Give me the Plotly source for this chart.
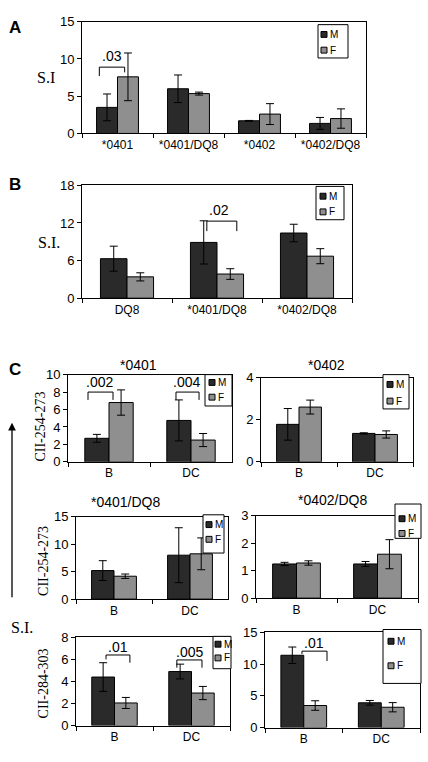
import plotly.graph_objects as go

W, H = 428, 762

# ---------------- data ----------------
A_cats = ["*0401", "*0401/DQ8", "*0402", "*0402/DQ8"]
A_M = [3.5, 6.0, 1.7, 1.35]
A_M_err = [1.8, 1.85, 0.05, 0.8]
A_F = [7.6, 5.35, 2.6, 2.0]
A_F_err = [3.2, 0.2, 1.4, 1.3]

B_cats = ["DQ8", "*0401/DQ8", "*0402/DQ8"]
B_M = [6.3, 8.9, 10.4]
B_M_err = [2.0, 3.45, 1.4]
B_F = [3.4, 3.85, 6.7]
B_F_err = [0.65, 0.85, 1.2]

C_cats = ["B", "DC"]
C1_M = [2.7, 4.75]; C1_M_err = [0.45, 2.35]
C1_F = [6.8, 2.5]; C1_F_err = [1.45, 0.75]
C2_M = [1.78, 1.35]; C2_M_err = [0.75, 0.03]
C2_F = [2.6, 1.3]; C2_F_err = [0.33, 0.17]
C3_M = [5.2, 8.0]; C3_M_err = [1.8, 5.0]
C3_F = [4.17, 8.25]; C3_F_err = [0.4, 2.9]
C4_M = [1.245, 1.245]; C4_M_err = [0.06, 0.09]
C4_F = [1.28, 1.6]; C4_F_err = [0.08, 0.53]
C5_M = [4.4, 4.9]; C5_M_err = [1.3, 0.67]
C5_F = [2.05, 2.95]; C5_F_err = [0.5, 0.6]
C6_M = [11.4, 3.9]; C6_M_err = [1.3, 0.37]
C6_F = [3.47, 3.2]; C6_F_err = [0.75, 0.73]

C_titles = ["*0401", "*0402", "*0401/DQ8", "*0402/DQ8"]
p_labels = [".03", ".02", ".002", ".004", ".01", ".005", ".01"]

M_COLOR = "#2a2a2a"
F_COLOR = "#8f8f8f"

# panels: (cats, M, Merr, F, Ferr, x0px, x1px, ytop, ybot, ymax, dtick)
panels = [
    (A_cats, A_M, A_M_err, A_F, A_F_err, 82, 366, 15, 129, 15, 5),
    (B_cats, B_M, B_M_err, B_F, B_F_err, 82, 352, 182, 297, 18, 6),
    (C_cats, C1_M, C1_M_err, C1_F, C1_F_err, 68, 232, 375, 464, 10, 2),
    (C_cats, C2_M, C2_M_err, C2_F, C2_F_err, 261, 413, 378, 464, 4, 2),
    (C_cats, C3_M, C3_M_err, C3_F, C3_F_err, 76, 228, 520, 604, 15, 5),
    (C_cats, C4_M, C4_M_err, C4_F, C4_F_err, 256, 418, 519, 603, 3, 1),
    (C_cats, C5_M, C5_M_err, C5_F, C5_F_err, 76, 230, 643, 733, 8, 2),
    (C_cats, C6_M, C6_M_err, C6_F, C6_F_err, 265, 420, 638, 735, 15, 5),
]

def px(x):
    return x / W

def py(y):
    return 1 - y / H

fig = go.Figure()
layout = dict(
    width=W, height=H, margin=dict(l=0, r=0, t=0, b=0),
    paper_bgcolor="white", plot_bgcolor="white",
    barmode="group", bargap=0.41, bargroupgap=0,
    showlegend=False,
    font=dict(family="Arial, Liberation Sans, sans-serif", color="black", size=12),
)

for i, (cats, m, me, f, fe, x0, x1, yt, yb, ymax, dt) in enumerate(panels):
    n = "" if i == 0 else str(i + 1)
    xa, ya = "x" + n, "y" + n
    err = dict(type="data", color="black", thickness=1, width=4)
    fig.add_trace(go.Bar(x=cats, y=m, name="M", xaxis=xa, yaxis=ya,
                         marker=dict(color=M_COLOR, line=dict(color="black", width=1)),
                         error_y=dict(array=me, **err)))
    fig.add_trace(go.Bar(x=cats, y=f, name="F", xaxis=xa, yaxis=ya,
                         marker=dict(color=F_COLOR, line=dict(color="black", width=1)),
                         error_y=dict(array=fe, **err)))
    layout["xaxis" + n] = dict(
        domain=[px(x0), px(x1)], anchor=ya, type="category",
        showline=True, linecolor="black", linewidth=1, mirror=True,
        ticks="outside", tickson="boundaries", ticklen=4, tickcolor="black",
        showgrid=False, tickfont=dict(size=12), fixedrange=True,
    )
    layout["yaxis" + n] = dict(
        domain=[py(yb), py(yt)], anchor=xa, range=[0, ymax], dtick=dt,
        showline=True, linecolor="black", linewidth=1, mirror=True,
        ticks="outside", ticklen=4, tickcolor="black", showgrid=False,
        zeroline=False, tickfont=dict(size=13), fixedrange=True,
    )

fig.update_layout(**layout)

# ---------------- significance brackets ----------------
# (panel, category index, left offset, right offset, y top, y left end, y right end, label, label x offset, label y)
brackets = [
    (0, 0, -0.256, 0.101, 8.9, 7.7, 8.2, p_labels[0], -0.08, 10.4),
    (1, 1, -0.113, 0.22, 12.3, 10.7, 10.7, p_labels[1], 0.017, 14.0),
    (2, 0, -0.256, 0.049, 8.0, 7.1, 7.1, p_labels[2], -0.11, 9.1),
    (2, 1, -0.183, 0.098, 8.0, 7.1, 7.1, p_labels[3], -0.05, 9.1),
    (6, 0, -0.11, 0.2, 6.4, 6.0, 5.7, p_labels[4], 0.045, 7.1),
    (6, 1, -0.19, 0.136, 5.95, 5.25, 5.25, p_labels[5], -0.03, 6.65),
    (7, 0, -0.023, 0.3, 12.05, 11.6, 10.5, p_labels[6], 0.13, 13.3),
]
shapes = []
annotations = []
for (p, ci, lo, ro, ytop, yl, yr, lab, lxo, ly) in brackets:
    n = "" if p == 0 else str(p + 1)
    xr, yref = "x" + n, "y" + n
    xl, xrr = ci + lo, ci + ro
    ln = dict(color="black", width=1)
    shapes.append(dict(type="line", xref=xr, yref=yref, x0=xl, x1=xrr, y0=ytop, y1=ytop, line=ln))
    shapes.append(dict(type="line", xref=xr, yref=yref, x0=xl, x1=xl, y0=ytop, y1=yl, line=ln))
    shapes.append(dict(type="line", xref=xr, yref=yref, x0=xrr, x1=xrr, y0=ytop, y1=yr, line=ln))
    annotations.append(dict(xref=xr, yref=yref, x=ci + lxo, y=ly, text=lab, showarrow=False,
                            font=dict(size=14), xanchor="center", yanchor="middle"))

# ---------------- custom legends (box px: x0, x1, y0, y1, sq x0, M y center, F y center) ----------------
legends = [
    (318, 348, 18, 52, 321, 28, 44),
    (316, 344, 183, 217, 320, 193, 209),
    (205, 232, 375, 407, 209, 383, 398),
    (383, 409, 375, 410, 387, 385, 402),
    (203, 224, 518, 557, 206, 528, 543),
    (395, 421, 507, 542, 399, 522, 537),
    (213, 231, 642, 675, 215, 650, 664),
    (383, 421, 635, 690, 388, 647, 672),
]
for (bx0, bx1, by0, by1, sx, my, fy) in legends:
    shapes.append(dict(type="rect", xref="paper", yref="paper", x0=px(bx0), x1=px(bx1),
                       y0=py(by1), y1=py(by0), line=dict(color="black", width=1), fillcolor="white",
                       layer="above"))
    for yc, col, lab in ((my, M_COLOR, "M"), (fy, F_COLOR, "F")):
        shapes.append(dict(type="rect", xref="paper", yref="paper", x0=px(sx), x1=px(sx + 6),
                           y0=py(yc + 3), y1=py(yc - 3), line=dict(color="black", width=1),
                           fillcolor=col, layer="above"))
        annotations.append(dict(xref="paper", yref="paper", x=px(sx + 7), y=py(yc), text=lab,
                                showarrow=False, xanchor="left", yanchor="middle",
                                font=dict(size=10)))

# ---------------- titles, labels ----------------
title_pos = [(138, 365), (326, 365), (125, 505), (332, 503)]
for t, (tx, ty) in zip(C_titles, title_pos):
    annotations.append(dict(xref="paper", yref="paper", x=px(tx), y=py(ty), text=t, showarrow=False,
                            xanchor="center", yanchor="middle", font=dict(size=14)))

for t, (tx, ty) in zip(["A", "B", "C"], [(15, 21), (15, 181), (15, 370)]):
    annotations.append(dict(xref="paper", yref="paper", x=px(tx), y=py(ty), text="<b>" + t + "</b>",
                            showarrow=False, xanchor="center", yanchor="middle",
                            font=dict(size=17, family="Arial, Liberation Sans, sans-serif")))

serif = "Times New Roman, Liberation Serif, serif"
for t, (tx, ty) in zip(["S.I", "S.I.", "S.I."], [(46, 72), (49, 240), (22, 633)]):
    annotations.append(dict(xref="paper", yref="paper", x=px(tx), y=py(ty), text=t, showarrow=False,
                            xanchor="center", yanchor="middle", font=dict(size=16, family=serif)))

for t, (tx, ty) in zip(["CII-254-273", "CII-254-273", "CII-284-303"], [(41, 428), (44, 565), (43, 690)]):
    annotations.append(dict(xref="paper", yref="paper", x=px(tx), y=py(ty), text=t, showarrow=False,
                            textangle=-90, xanchor="center", yanchor="middle",
                            font=dict(size=14, family=serif)))

# vertical arrow
annotations.append(dict(xref="paper", yref="paper", x=px(12), y=py(424), ax=0, ay=176,
                        axref="pixel", ayref="pixel", text="", showarrow=True,
                        arrowhead=2, arrowsize=1.2, arrowwidth=1.3, arrowcolor="black"))

fig.update_layout(shapes=shapes, annotations=annotations)
fig.write_html(
    "out.html",
    config={"displayModeBar": False},
    post_script="document.body.style.margin='0';document.body.style.overflow='hidden';",
)
